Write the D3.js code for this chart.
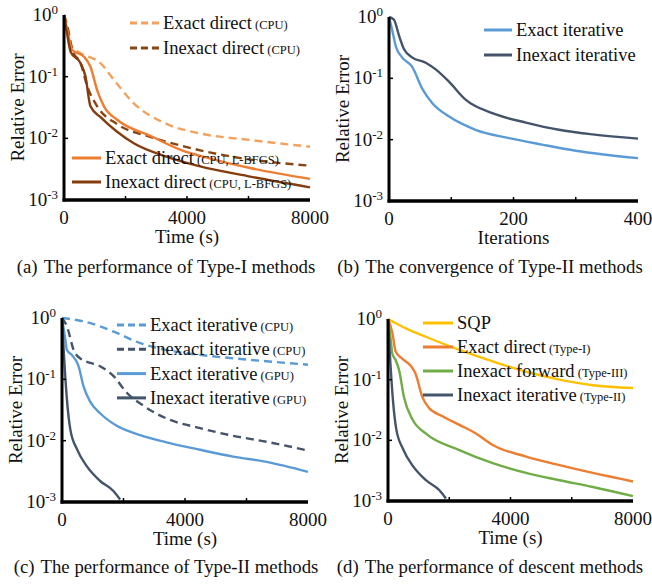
<!DOCTYPE html>
<html>
<head>
<meta charset="utf-8">
<script src="https://cdn.jsdelivr.net/npm/d3@7"></script>
<style>
  body { margin: 0; background: #fff; }
  svg text { font-family: "Liberation Serif", "Times New Roman", Times, serif; fill: #111; }
</style>
</head>
<body>
<svg id="chart" width="652" height="586"></svg>
<script>
// ---- data (time in s / iterations, relative error) ----
const yTicks = [1, 0.1, 0.01, 0.001];
const yTickExp = ["0", "-1", "-2", "-3"];
const timeTicks = [0, 4000, 8000];
const iterTicks = [0, 200, 400];

// (a) Type-I methods
const exactDirectCPU = [[0,1],[100,0.6],[270,0.3],[540,0.24],[1190,0.165],[1620,0.089],[2270,0.037],[3350,0.017],[4430,0.012],[6050,0.0094],[8000,0.0073]];
const inexactDirectCPU = [[0,1],[100,0.7],[270,0.27],[540,0.165],[760,0.069],[1080,0.033],[1730,0.017],[2800,0.0106],[3900,0.0074],[5500,0.005],[8000,0.0036]];
const exactDirectLBFGS = [[0,1],[100,0.6],[270,0.27],[650,0.21],[860,0.145],[1080,0.06],[1300,0.033],[1730,0.02],[2800,0.011],[3900,0.0062],[4430,0.0052],[6050,0.0033],[8000,0.0022]];
const inexactDirectLBFGS = [[0,1],[100,0.5],[220,0.25],[540,0.165],[700,0.1],[860,0.033],[1190,0.022],[2270,0.0083],[3350,0.005],[4430,0.0035],[6050,0.0024],[8000,0.0016]];

// (b) Type-II convergence (iterations)
const exactIterIt = [[0,1],[5,0.62],[11,0.33],[21,0.22],[37,0.155],[54,0.066],[70,0.039],[96,0.024],[139,0.0145],[193,0.0106],[246,0.0083],[300,0.0066],[400,0.005]];
const inexactIterIt = [[0,1],[8,0.9],[16,0.5],[24,0.3],[37,0.22],[59,0.18],[75,0.14],[96,0.089],[123,0.045],[166,0.027],[220,0.019],[273,0.0145],[327,0.0122],[400,0.0104]];

// (c) Type-II performance
const exactIterCPU = [[0,1],[700,0.88],[1240,0.73],[1780,0.57],[2540,0.39],[3400,0.3],[4490,0.25],[5570,0.22],[6650,0.197],[8000,0.173]];
const inexactIterCPU = [[0,1],[160,0.73],[380,0.3],[590,0.22],[1240,0.163],[1670,0.114],[2100,0.061],[2650,0.037],[3400,0.023],[4490,0.016],[5570,0.012],[6650,0.0096],[8000,0.0069]];
const exactIterGPU = [[0,1],[110,0.44],[160,0.3],[320,0.25],[540,0.163],[700,0.077],[920,0.043],[1240,0.028],[1780,0.0175],[2320,0.0134],[3400,0.0094],[4490,0.0071],[5570,0.0055],[6650,0.0045],[8000,0.0031]];
const inexactIterGPU = [[0,1],[55,0.3],[160,0.047],[270,0.0153],[490,0.0072],[810,0.0038],[1240,0.0022],[1680,0.0015],[1890,0.0011]];

// (d) descent methods
const sqp = [[0,1],[690,0.66],[1230,0.51],[2330,0.31],[3420,0.2],[4510,0.135],[5600,0.1],[6690,0.081],[8000,0.073]];
const exactDirectI = [[0,1],[140,0.6],[250,0.29],[470,0.22],[740,0.17],[900,0.125],[1120,0.052],[1340,0.034],[1780,0.025],[2330,0.018],[2870,0.013],[3420,0.0084],[4510,0.0054],[5600,0.0039],[6690,0.0029],[8000,0.0021]];
const inexactForward = [[0,1],[90,0.45],[140,0.27],[250,0.21],[360,0.145],[520,0.052],[800,0.022],[1230,0.013],[2330,0.0069],[3420,0.0042],[4510,0.0029],[5600,0.0022],[6690,0.0017],[8000,0.0012]];

// ---- colours ----
const cLightOrange = "#f4a15d", cOrange = "#ed7d31", cBrown = "#8b4513", cDarkBrown = "#843c0c";
const cBlue = "#5b9bd5", cSlate = "#44546a", cYellow = "#ffc000", cGreen = "#70ad47";

const svg = d3.select("#chart");

function panel(cfg) {
  const g = svg.append("g");
  const x = d3.scaleLinear().domain(cfg.xDomain).range([cfg.left, cfg.right]);
  const y = d3.scaleLog().domain([0.001, 1]).range([cfg.bottom, cfg.top]);

  const line = d3.line()
    .x(d => x(d[0]))
    .y(d => y(Math.max(d[1], 0.001)))
    .curve(d3.curveMonotoneX);

  // series
  cfg.series.forEach(s => {
    g.append("path")
      .datum(s.data)
      .attr("fill", "none")
      .attr("stroke", s.color)
      .attr("stroke-width", 2.4)
      .attr("stroke-dasharray", s.dash ? "8,5" : null)
      .attr("d", line);
  });

  // axes
  g.append("line").attr("x1", cfg.left).attr("x2", cfg.left)
    .attr("y1", cfg.top).attr("y2", cfg.bottom + 1.5)
    .attr("stroke", "#000").attr("stroke-width", 3);
  g.append("line").attr("x1", cfg.left - 1.5).attr("x2", cfg.right)
    .attr("y1", cfg.bottom).attr("y2", cfg.bottom)
    .attr("stroke", "#000").attr("stroke-width", 3.5);

  // y ticks (inside) and labels with superscripts
  yTicks.forEach((t, i) => {
    if (i > 0 && i < yTicks.length - 1) {
      g.append("line").attr("x1", cfg.left).attr("x2", cfg.left + 4)
        .attr("y1", y(t)).attr("y2", y(t)).attr("stroke", "#000").attr("stroke-width", 1.5);
    }
    const tx = g.append("text")
      .attr("x", cfg.left - 6).attr("y", y(t) + 6)
      .attr("text-anchor", "end")
      .style("font-size", "19px");
    tx.append("tspan").text("10");
    tx.append("tspan").attr("dy", -7).style("font-size", "13px").text(yTickExp[i]);
  });

  // x ticks: minor marks halfway, labels at main ticks
  const xt = cfg.xTicks;
  const minor = [(xt[0] + xt[1]) / 2, xt[1], (xt[1] + xt[2]) / 2];
  minor.forEach(t => {
    g.append("line").attr("x1", x(t)).attr("x2", x(t))
      .attr("y1", cfg.bottom).attr("y2", cfg.bottom - 4)
      .attr("stroke", "#000").attr("stroke-width", 1.5);
  });
  xt.forEach(t => {
    g.append("text").attr("x", x(t)).attr("y", cfg.bottom + 24)
      .attr("text-anchor", "middle").style("font-size", "19px").text(t);
  });

  // axis titles
  g.append("text")
    .attr("transform", `translate(${cfg.left - 40},${(cfg.top + cfg.bottom) / 2}) rotate(-90)`)
    .attr("text-anchor", "middle").style("font-size", "19px").text("Relative Error");
  g.append("text").attr("x", (cfg.left + cfg.right) / 2).attr("y", cfg.bottom + 43)
    .attr("text-anchor", "middle").style("font-size", "19px").text(cfg.xTitle);

  // caption
  const cap = g.append("text").attr("x", cfg.capX).attr("y", cfg.capY)
    .attr("text-anchor", "middle").style("font-size", "18.8px");
  cap.append("tspan").text(cfg.capLabel);
  cap.append("tspan").attr("dx", 6).text(cfg.caption);

  // legend
  cfg.legend.forEach(l => {
    l.rows.forEach((r, i) => {
      const ly = l.y + i * l.step;
      g.append("line").attr("x1", l.x).attr("x2", l.x + l.len)
        .attr("y1", ly).attr("y2", ly)
        .attr("stroke", r.color).attr("stroke-width", 3)
        .attr("stroke-dasharray", r.dash ? "7,4" : null);
      const t = g.append("text").attr("x", l.x + l.len + 4).attr("y", ly + 6)
        .style("font-size", "18.5px");
      t.append("tspan").text(r.label);
      if (r.small) t.append("tspan").style("font-size", "12.5px").text(" " + r.small);
    });
  });
}

panel({
  left: 64, right: 310, top: 15, bottom: 200,
  xDomain: [0, 8000], xTicks: timeTicks, xTitle: "Time (s)",
  capX: 166, capY: 273, capLabel: "(a)", caption: "The performance of Type-I methods",
  series: [
    { data: exactDirectCPU, color: cLightOrange, dash: true },
    { data: inexactDirectCPU, color: cBrown, dash: true },
    { data: exactDirectLBFGS, color: cOrange },
    { data: inexactDirectLBFGS, color: cDarkBrown }
  ],
  legend: [
    { x: 130, y: 23, step: 25, len: 29, rows: [
      { label: "Exact direct", small: "(CPU)", color: cLightOrange, dash: true },
      { label: "Inexact direct", small: "(CPU)", color: cBrown, dash: true } ] },
    { x: 72, y: 158, step: 24, len: 29, rows: [
      { label: "Exact direct", small: "(CPU, L-BFGS)", color: cOrange },
      { label: "Inexact direct", small: "(CPU, L-BFGS)", color: cDarkBrown } ] }
  ]
});

panel({
  left: 389, right: 638, top: 17, bottom: 201,
  xDomain: [0, 400], xTicks: iterTicks, xTitle: "Iterations",
  capX: 490, capY: 273, capLabel: "(b)", caption: "The convergence of Type-II methods",
  series: [
    { data: exactIterIt, color: cBlue },
    { data: inexactIterIt, color: cSlate }
  ],
  legend: [
    { x: 484, y: 30, step: 25, len: 28, rows: [
      { label: "Exact iterative", color: cBlue },
      { label: "Inexact iterative", color: cSlate } ] }
  ]
});

panel({
  left: 62, right: 308, top: 318, bottom: 502,
  xDomain: [0, 8000], xTicks: timeTicks, xTitle: "Time (s)",
  capX: 166, capY: 573, capLabel: "(c)", caption: "The performance of Type-II methods",
  series: [
    { data: exactIterCPU, color: cBlue, dash: true },
    { data: inexactIterCPU, color: cSlate, dash: true },
    { data: exactIterGPU, color: cBlue },
    { data: inexactIterGPU, color: cSlate }
  ],
  legend: [
    { x: 117, y: 325, step: 24.3, len: 29, rows: [
      { label: "Exact iterative", small: "(CPU)", color: cBlue, dash: true },
      { label: "Inexact iterative", small: "(CPU)", color: cSlate, dash: true },
      { label: "Exact iterative", small: "(GPU)", color: cBlue },
      { label: "Inexact iterative", small: "(GPU)", color: cSlate } ] }
  ]
});

panel({
  left: 388, right: 633, top: 319, bottom: 501,
  xDomain: [0, 8000], xTicks: timeTicks, xTitle: "Time (s)",
  capX: 490, capY: 573, capLabel: "(d)", caption: "The performance of descent methods",
  series: [
    { data: sqp, color: cYellow },
    { data: exactDirectI, color: cOrange },
    { data: inexactForward, color: cGreen },
    { data: inexactIterGPU, color: cSlate }
  ],
  legend: [
    { x: 423, y: 323, step: 24, len: 30, rows: [
      { label: "SQP", color: cYellow },
      { label: "Exact direct", small: "(Type-I)", color: cOrange },
      { label: "Inexact forward", small: "(Type-III)", color: cGreen },
      { label: "Inexact iterative", small: "(Type-II)", color: cSlate } ] }
  ]
});
</script>
</body>
</html>
